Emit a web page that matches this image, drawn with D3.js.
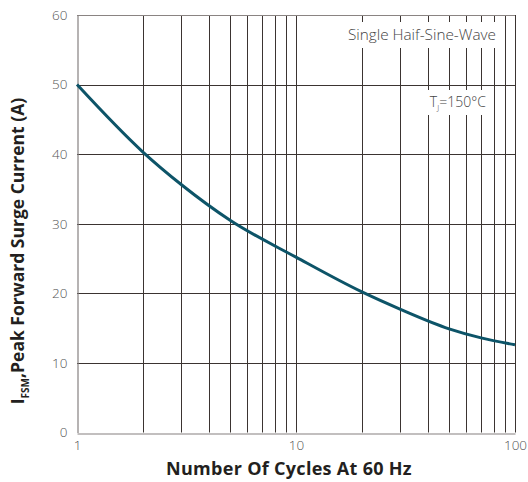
<!DOCTYPE html>
<html>
<head>
<meta charset="utf-8">
<script src="https://cdn.jsdelivr.net/npm/d3@7"></script>
<style>
  body { margin: 0; background: #fff; }
  svg { display: block; }
</style>
</head>
<body>
<div id="chart-area"></div>
<script>
// curve
var cycles  = [1, 2, 3, 5, 10, 20, 30, 50, 70, 100];
var current = [50, 40.3, 35.6, 30.5, 25.2, 20.2, 17.7, 14.9, 13.6, 12.6];

var yTicks = [0, 10, 20, 30, 40, 50, 60];
var xTicks = [1, 10, 100];

var margin = { left: 77, right: 13, top: 15, bottom: 49.5 };
var W = 528, H = 482;
var width = W - margin.left - margin.right;
var height = H - margin.top - margin.bottom;

var svg = d3.select("#chart-area")
    .append("svg")
        .attr("width", W)
        .attr("height", H);

var g = svg.append("g")
    .attr("transform", "translate(" + margin.left + "," + margin.top + ")");

var x = d3.scaleLog()
    .domain([1, 100])
    .range([0, width]);

var y = d3.scaleLinear()
    .domain([0, 60])
    .range([height, 0]);

// vertical grid: 2..9, 10..90, 100
var xGrid = x.ticks().filter(function(d){ return d > 1; });

g.selectAll(".vgrid")
    .data(xGrid)
    .enter().append("line")
        .attr("class", "vgrid")
        .attr("x1", function(d){ return Math.round(x(d)) + 0.5; })
        .attr("x2", function(d){ return Math.round(x(d)) + 0.5; })
        .attr("y1", 0)
        .attr("y2", height)
        .attr("stroke", "#3b3431")
        .attr("stroke-width", 1);

g.selectAll(".hgrid")
    .data(yTicks.filter(function(d){ return d > 0; }))
    .enter().append("line")
        .attr("class", "hgrid")
        .attr("x1", 0)
        .attr("x2", width)
        .attr("y1", function(d){ return Math.round(y(d)) + 0.5; })
        .attr("y2", function(d){ return Math.round(y(d)) + 0.5; })
        .attr("stroke", function(d){ return d == 60 ? "#8a8482" : "#3b3431"; })
        .attr("stroke-width", 1);

// axes
var yAxisCall = d3.axisLeft(y)
    .tickValues(yTicks)
    .tickSize(0)
    .tickPadding(10);

var xAxisCall = d3.axisBottom(x)
    .tickValues(xTicks)
    .tickFormat(d3.format("d"))
    .tickSize(0)
    .tickPadding(7);

var yAx = g.append("g")
    .attr("class", "y axis")
    .attr("transform", "translate(0.5,0)")
    .call(yAxisCall);

var xAx = g.append("g")
    .attr("class", "x axis")
    .attr("transform", "translate(0," + (Math.round(height) + 0.5) + ")")
    .call(xAxisCall);

[yAx, xAx].forEach(function(a){
    a.select(".domain").attr("stroke", "#858080").attr("stroke-width", 1.2);
    a.selectAll("text")
        .attr("font-family", "'Open Sans', sans-serif")
        .attr("font-weight", 300)
        .attr("font-size", "13.5px")
        .attr("fill", "#555");
});

// label boxes
var box1 = g.append("g").attr("transform", "translate(" + (x(20) - 20) + "," + 7 + ")");
box1.append("rect")
    .attr("width", 162).attr("height", 26)
    .attr("fill", "#fff");
box1.append("text")
    .attr("x", 80).attr("y", 18)
    .attr("text-anchor", "middle")
    .attr("font-family", "'Open Sans', sans-serif")
    .attr("font-weight", 300)
    .attr("font-size", "15.3px")
    .attr("fill", "#444")
    .text("Single Haif-Sine-Wave");

var box2 = g.append("g").attr("transform", "translate(" + (x(40) - 6) + "," + 75 + ")");
box2.append("rect")
    .attr("width", 68).attr("height", 25)
    .attr("fill", "#fff");
var t2 = box2.append("text")
    .attr("x", 36).attr("y", 17)
    .attr("text-anchor", "middle")
    .attr("font-family", "'Open Sans', sans-serif")
    .attr("font-weight", 300)
    .attr("font-size", "14px")
    .attr("fill", "#444");
t2.append("tspan").text("T");
t2.append("tspan").attr("font-size", "8px").attr("dy", 3).text("J");
t2.append("tspan").attr("dy", -3).text("=150°C");

// the curve
var line = d3.line()
    .x(function(d, i){ return x(cycles[i]); })
    .y(function(d){ return y(d); })
    .curve(d3.curveMonotoneX);

g.append("path")
    .datum(current)
    .attr("fill", "none")
    .attr("stroke", "#0d5468")
    .attr("stroke-width", 3)
    .attr("d", line);

// axis titles
svg.append("text")
    .attr("x", 289)
    .attr("y", 475)
    .attr("text-anchor", "middle")
    .attr("font-family", "'Open Sans', sans-serif")
    .attr("font-weight", 700)
    .attr("font-size", "18px")
    .attr("letter-spacing", "0.3px")
    .attr("fill", "#231f20")
    .text("Number Of Cycles At 60 Hz");

var yt = svg.append("text")
    .attr("transform", "translate(24," + 251 + ") rotate(-90)")
    .attr("text-anchor", "middle")
    .attr("font-family", "'Open Sans', sans-serif")
    .attr("font-weight", 700)
    .attr("font-size", "17.5px")
    .attr("fill", "#231f20");
yt.append("tspan").text("I");
yt.append("tspan").attr("font-size", "10px").attr("dy", 5).text("FSM");
yt.append("tspan").attr("dy", -5).text(",Peak Forward Surge Current (A)");
</script>
</body>
</html>
